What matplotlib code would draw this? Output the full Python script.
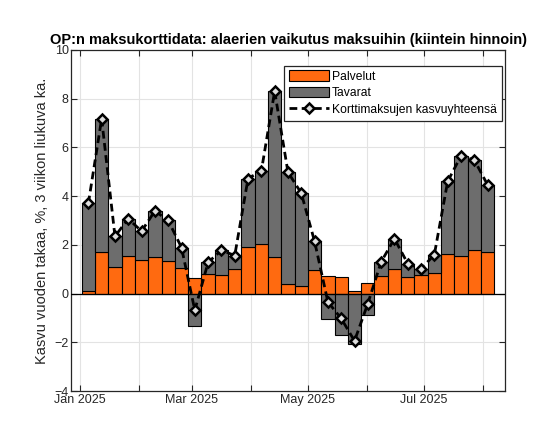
import numpy as np
import pandas as pd
import matplotlib
matplotlib.use("Agg")
import matplotlib.pyplot as plt

# ----------------------
# DATA
# ----------------------
weeks = pd.date_range("2025-01-05 12:00", periods=31, freq="7D")

total = [3.70, 7.17, 2.35, 3.07, 2.56, 3.39, 3.00, 1.89, -0.68, 1.28,
         1.78, 1.56, 4.72, 5.03, 8.30, 4.98, 4.12, 2.14, -0.34, -1.02,
         -1.94, -0.41, 1.30, 2.25, 1.23, 1.01, 1.60, 4.60, 5.65, 5.48,
         4.46]
palvelut = [0.09, 1.71, 1.10, 1.54, 1.39, 1.51, 1.35, 1.06, 0.64, 0.82,
            0.75, 0.99, 1.92, 2.03, 1.51, 0.41, 0.31, 0.98, 0.72, 0.67,
            0.11, 0.45, 0.74, 1.01, 0.68, 0.78, 0.86, 1.61, 1.56, 1.79,
            1.71]

tavarat = np.array(total) - np.array(palvelut)
palv = np.array(palvelut)
tav_bottom = np.where(tavarat >= 0, palv, 0.0)

orange = "#FF6A10"
grey = "#6D6D6D"
axcol = "#262626"

plt.rcParams["font.family"] = ["Liberation Sans", "DejaVu Sans"]

fig = plt.figure(figsize=(5.45, 4.37), dpi=100)
ax = fig.add_axes([0.131, 0.105, 0.7965, 0.781])

width = pd.Timedelta(days=7)
b1 = ax.bar(weeks, palv, width=width, color=orange, edgecolor="black",
            linewidth=0.8, label="Palvelut", zorder=3)
b2 = ax.bar(weeks, tavarat, width=width, bottom=tav_bottom, color=grey,
            edgecolor="black", linewidth=0.8, label="Tavarat", zorder=3)
l1, = ax.plot(weeks, total, color="black", linestyle=(0, (2.8, 1.6)), linewidth=2,
              marker="D", markersize=5, markerfacecolor="#dddddd",
              markeredgecolor="black", markeredgewidth=1.8,
              label="Korttimaksujen kasvuyhteensä", zorder=4)

ax.set_xlim(pd.Timestamp("2024-12-27 14:00"), pd.Timestamp("2025-08-12 22:00"))
ax.set_ylim(-4, 10)
ax.set_yticks(np.arange(-4, 11, 2))

months = pd.date_range("2025-01-01", "2025-08-01", freq="MS")
ax.set_xticks(months)
ax.set_xticklabels([m.strftime("%b %Y") if m.month % 2 == 1 else "" for m in months])

ax.axhline(0, color="black", linewidth=0.9, zorder=3.5)
ax.grid(True, color="#E3E3E3", linewidth=0.8, zorder=0)
ax.tick_params(direction="in", length=4, width=0.8, colors=axcol,
               labelsize=9, top=True, right=True, pad=2)
for s in ax.spines.values():
    s.set_color(axcol)
    s.set_linewidth(0.9)

ax.set_title("OP:n maksukorttidata: alaerien vaikutus maksuihin (kiintein hinnoin)",
             fontsize=10.5, fontweight="bold", color="black", pad=4)
ax.set_ylabel("Kasvu vuoden takaa, %, 3 viikon liukuva ka.", fontsize=10.5,
              color=axcol, labelpad=4)

leg = ax.legend(handles=[b1, b2, l1], loc="upper right",
                bbox_to_anchor=(0.991, 0.954),
                borderaxespad=0, fontsize=8.7, frameon=True, fancybox=False,
                handlelength=3.3, handleheight=0.95, handletextpad=0.25,
                labelspacing=0.35, borderpad=0.4)
leg.get_frame().set_edgecolor(axcol)
leg.get_frame().set_linewidth(0.9)
leg.get_frame().set_alpha(1)

fig.savefig("out.png", dpi=100)
